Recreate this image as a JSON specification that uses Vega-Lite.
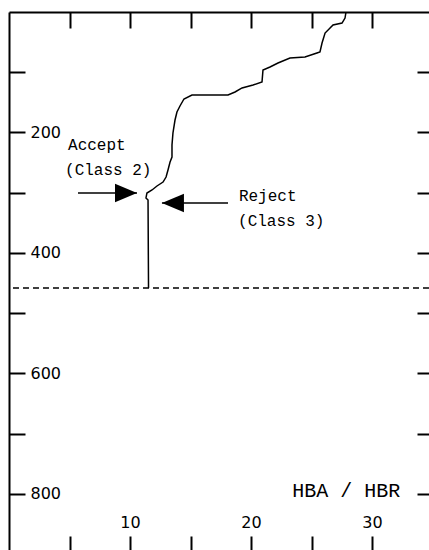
{
  "$schema": "https://vega.github.io/schema/vega-lite/v6.json",
  "width": 420,
  "height": 538,
  "autosize": {"type": "none"},
  "padding": {"left": 9, "top": 12, "right": 0, "bottom": 0},
  "background": "white",
  "config": {
    "view": {"stroke": null},
    "axis": {"grid": false, "domainColor": "black", "tickColor": "black", "labelColor": "black", "domainWidth": 2, "tickWidth": 2, "title": null, "labelFont": "DejaVu Sans", "labelFontSize": 16, "labelOverlap": false, "labelFlush": false}
  },
  "datasets": {
    "curve": [
      {"i": 0, "hba": 11.53, "depth": 458},
      {"i": 1, "hba": 11.49, "depth": 312},
      {"i": 2, "hba": 11.32, "depth": 308.7},
      {"i": 3, "hba": 11.4, "depth": 300.4},
      {"i": 4, "hba": 11.82, "depth": 295.4},
      {"i": 5, "hba": 12.23, "depth": 288.8},
      {"i": 6, "hba": 12.73, "depth": 282.2},
      {"i": 7, "hba": 12.98, "depth": 273.9},
      {"i": 8, "hba": 13.14, "depth": 262.2},
      {"i": 9, "hba": 13.31, "depth": 248.9},
      {"i": 10, "hba": 13.47, "depth": 240.7},
      {"i": 11, "hba": 13.47, "depth": 220.7},
      {"i": 12, "hba": 13.55, "depth": 200.8},
      {"i": 13, "hba": 13.72, "depth": 179.3},
      {"i": 14, "hba": 13.88, "depth": 166},
      {"i": 15, "hba": 14.13, "depth": 156},
      {"i": 16, "hba": 14.46, "depth": 144.4},
      {"i": 17, "hba": 15.12, "depth": 137.8},
      {"i": 18, "hba": 18.1, "depth": 137.8},
      {"i": 19, "hba": 18.68, "depth": 132.8},
      {"i": 20, "hba": 19.26, "depth": 126.1},
      {"i": 21, "hba": 20.17, "depth": 121.2},
      {"i": 22, "hba": 20.91, "depth": 116.2},
      {"i": 23, "hba": 20.99, "depth": 96.3},
      {"i": 24, "hba": 21.57, "depth": 91.3},
      {"i": 25, "hba": 22.23, "depth": 84.6},
      {"i": 26, "hba": 23.22, "depth": 76.3},
      {"i": 27, "hba": 24.46, "depth": 74.7},
      {"i": 28, "hba": 25.45, "depth": 68},
      {"i": 29, "hba": 25.7, "depth": 66.4},
      {"i": 30, "hba": 25.87, "depth": 51.5},
      {"i": 31, "hba": 26.12, "depth": 34.9},
      {"i": 32, "hba": 26.78, "depth": 21.6},
      {"i": 33, "hba": 27.52, "depth": 18.3},
      {"i": 34, "hba": 27.77, "depth": 10},
      {"i": 35, "hba": 27.85, "depth": 0}
    ],
    "arrows": [
      {"label": "Accept", "tail": 5.7, "tip": 10.58, "depth": 300.4},
      {"label": "Reject", "tail": 18.1, "tip": 12.64, "depth": 317}
    ],
    "notes": [
      {"text": "Accept", "hba": 4.88, "depth": 229},
      {"text": "(Class 2)", "hba": 4.63, "depth": 270.5},
      {"text": "Reject", "hba": 19.0, "depth": 313.7},
      {"text": "(Class 3)", "hba": 18.93, "depth": 355}
    ],
    "axislabel": [
      {"text": "HBA / HBR", "hba": 23.4, "depth": 805}
    ],
    "threshold": [
      {"depth": 458}
    ]
  },
  "layer": [
    {
      "data": {"name": "curve"},
      "mark": {"type": "line", "color": "black", "strokeWidth": 1.5},
      "encoding": {
        "x": {"field": "hba", "type": "quantitative", "scale": {"domain": [0, 34.71], "nice": false, "zero": false},
              "axis": {"orient": "bottom", "values": [5, 10, 15, 20, 25, 30], "labelExpr": "datum.value % 10 === 0 ? datum.label : ''", "domain": false, "tickSize": -14, "labelPadding": -14, "labelBaseline": "middle"}},
        "y": {"field": "depth", "type": "quantitative", "scale": {"domain": [0, 893], "reverse": true, "nice": false, "zero": false},
              "axis": {"orient": "left", "values": [100, 200, 300, 400, 500, 600, 700, 800], "labelExpr": "datum.value % 200 === 0 ? datum.label : ''", "tickSize": -16, "labelPadding": -5, "labelAlign": "left", "labelBaseline": "middle"}},
        "order": {"field": "i", "type": "quantitative"}
      }
    },
    {
      "data": {"name": "arrows"},
      "mark": {"type": "rule", "color": "black", "strokeWidth": 1.5},
      "encoding": {
        "x": {"field": "tail", "type": "quantitative", "scale": {"domain": [0, 34.71], "nice": false, "zero": false},
              "axis": {"orient": "top", "values": [5, 10, 15, 20, 25, 30], "labels": false, "tickSize": -16}},
        "x2": {"field": "tip"},
        "y": {"field": "depth", "type": "quantitative", "scale": {"domain": [0, 893], "reverse": true, "nice": false, "zero": false},
              "axis": {"orient": "right", "values": [100, 200, 300, 400, 500, 600, 700, 800], "labels": false, "domain": false, "tickSize": -12}}
      }
    },
    {
      "data": {"name": "arrows"},
      "mark": {"type": "point", "filled": true, "color": "black", "opacity": 1, "size": 121},
      "encoding": {
        "x": {"field": "tip", "type": "quantitative", "axis": null},
        "y": {"field": "depth", "type": "quantitative", "axis": null},
        "shape": {"field": "label", "type": "nominal", "legend": null,
                  "scale": {"domain": ["Accept", "Reject"], "range": ["M-4,-1.7L0,0L-4,1.7Z", "M4,-1.7L0,0L4,1.7Z"]}}
      }
    },
    {
      "data": {"name": "threshold"},
      "mark": {"type": "rule", "color": "black", "strokeWidth": 1.5, "strokeDash": [6, 4]},
      "encoding": {
        "y": {"field": "depth", "type": "quantitative", "axis": null}
      }
    },
    {
      "data": {"name": "notes"},
      "mark": {"type": "text", "font": "Liberation Mono", "fontSize": 16, "align": "left", "baseline": "alphabetic", "color": "black"},
      "encoding": {
        "x": {"field": "hba", "type": "quantitative", "axis": null},
        "y": {"field": "depth", "type": "quantitative", "axis": null},
        "text": {"field": "text"}
      }
    },
    {
      "data": {"name": "axislabel"},
      "mark": {"type": "text", "font": "Liberation Mono", "fontSize": 20, "align": "left", "baseline": "alphabetic", "color": "black"},
      "encoding": {
        "x": {"field": "hba", "type": "quantitative", "axis": null},
        "y": {"field": "depth", "type": "quantitative", "axis": null},
        "text": {"field": "text"}
      }
    }
  ],
  "resolve": {"axis": {"x": "independent", "y": "independent"}}
}
